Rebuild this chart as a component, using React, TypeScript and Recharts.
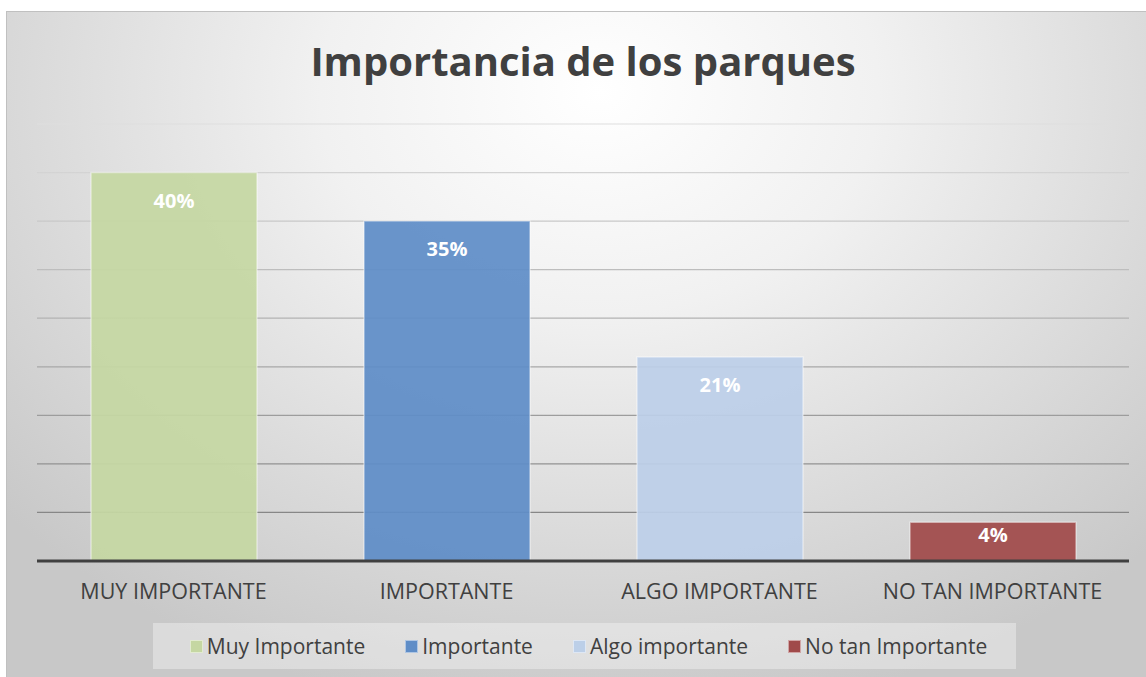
import React from 'react';
import { BarChart, Bar, XAxis, YAxis, CartesianGrid, Legend, Cell, LabelList } from 'recharts';

const categories = ['MUY IMPORTANTE', 'IMPORTANTE', 'ALGO IMPORTANTE', 'NO TAN IMPORTANTE'];
const legendNames = ['Muy Importante', 'Importante', 'Algo importante', 'No tan Importante'];
const values = [40, 35, 21, 4];
const colors = ['#c5d7a2', '#5f8dc7', '#bccfe8', '#a04a4a'];
const yTicks = [0, 5, 10, 15, 20, 25, 30, 35, 40, 45];
const title = 'Importancia de los parques';

const data = categories.map((c, i) => ({ category: c, name: legendNames[i], value: values[i] }));

const FONT = "'Open Sans', 'DejaVu Sans', sans-serif";
const W = 1140;
const H = 666;

const Tick = (props: any) => {
  const { x, y, payload } = props;
  return (
    <text x={x} y={y + 38} textAnchor="middle" fill="#404040" fontSize={21.5} fontFamily={FONT}>
      {payload.value}
    </text>
  );
};

const BarLabel = (props: any) => {
  const { x, y, width, height, value } = props;
  const off = Math.min(35, height * 0.52);
  return (
    <text x={x + width / 2} y={y + off} textAnchor="middle" fill="#ffffff" fontSize={20} fontWeight={700} fontFamily={FONT}>
      {value}%
    </text>
  );
};

const LegendContent = () => (
  <div
    style={{
      width: 863,
      height: 46,
      background: 'rgba(255,255,255,0.35)',
      display: 'flex',
      alignItems: 'center',
      justifyContent: 'center',
      gap: 40,
      fontFamily: FONT,
      fontSize: 21,
      color: '#404040',
      boxSizing: 'border-box',
      paddingLeft: 8,
    }}
  >
    {legendNames.map((n, i) => (
      <div key={n} style={{ display: 'flex', alignItems: 'center' }}>
        <span
          style={{
            display: 'inline-block',
            width: 13,
            height: 13,
            background: colors[i],
            border: '1px solid rgba(255,255,255,0.5)',
            boxSizing: 'border-box',
            marginRight: 4,
          }}
        />
        <span>{n}</span>
      </div>
    ))}
  </div>
);

export default function App() {
  return (
    <div
      style={{
        position: 'absolute',
        left: 6,
        top: 11,
        width: W,
        height: H,
        boxSizing: 'border-box',
        borderTop: '1px solid #c0c0c0',
        borderLeft: '1px solid #c0c0c0',
        background:
          'radial-gradient(ellipse 70% 95% at 52% 12%, #ffffff 0%, #f1f1f1 35%, #dcdcdc 68%, #c8c8c8 100%)',
        overflow: 'hidden',
      }}
    >
      <div
        style={{
          position: 'absolute',
          left: 6,
          top: 29,
          width: W,
          textAlign: 'center',
          fontFamily: FONT,
          fontWeight: 700,
          fontSize: 40,
          lineHeight: '40px',
          color: '#404040',
        }}
      >
        {title}
      </div>
      <BarChart
        width={W}
        height={H}
        data={data}
        margin={{ top: 112, right: 18, left: 30, bottom: 21 }}
        style={{ position: 'absolute', left: 0, top: 0 }}
      >
        <defs>
          <linearGradient id="gridGrad" gradientUnits="userSpaceOnUse" x1="0" y1="112" x2="0" y2="549">
            <stop offset="0%" stopColor="#dedede" />
            <stop offset="100%" stopColor="#7c7c7c" />
          </linearGradient>
        </defs>
        <CartesianGrid vertical={false} stroke="url(#gridGrad)" strokeWidth={1.2} />
        <YAxis hide domain={[0, 45]} ticks={yTicks} />
        <XAxis
          dataKey="category"
          height={50}
          tickSize={0}
          tickMargin={0}
          tickLine={false}
          axisLine={{ stroke: '#404040', strokeWidth: 3 }}
          tick={<Tick />}
          interval={0}
        />
        <Legend
          verticalAlign="bottom"
          content={<LegendContent />}
          wrapperStyle={{ position: 'absolute', left: 146, top: 611, width: 863, height: 46 }}
        />
        <Bar dataKey="value" barSize={166} isAnimationActive={false} fillOpacity={0.93} stroke="rgba(255,255,255,0.45)" strokeWidth={1.5}>
          {data.map((d, i) => (
            <Cell key={d.category} fill={colors[i]} />
          ))}
          <LabelList dataKey="value" content={<BarLabel />} />
        </Bar>
      </BarChart>
    </div>
  );
}
